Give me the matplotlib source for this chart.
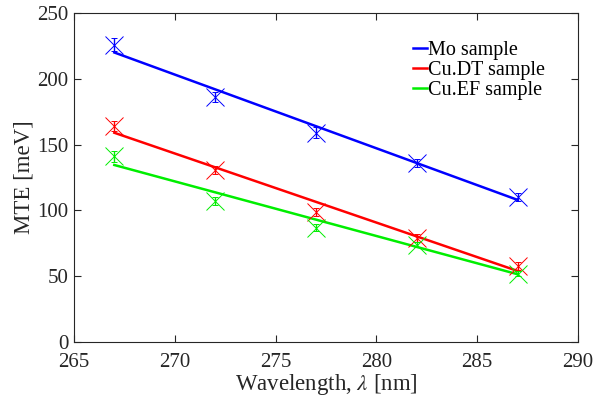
import numpy as np
import matplotlib
matplotlib.use("Agg")
import matplotlib.pyplot as plt

plt.rcParams['font.family'] = ['Liberation Serif', 'DejaVu Serif']
plt.rcParams['mathtext.fontset'] = 'stix'

wavelength = [267, 272, 277, 282, 287]

mo_mte = [226, 186, 159, 136, 110]
mo_err = [5, 4, 4, 3, 3]
cudt_mte = [164, 131, 99, 79, 58]
cudt_err = [4, 3, 3, 3, 3]
cuef_mte = [141, 107, 87, 74, 52]
cuef_err = [4, 3, 3, 2, 2]

# linear fit lines at 267 and 287 nm
fit_x = [267, 287]
mo_fit = [220, 108]
cudt_fit = [159, 54]
cuef_fit = [134.5, 51.5]

series = [
    ("Mo sample", mo_mte, mo_err, mo_fit, "#0000ff"),
    ("Cu.DT sample", cudt_mte, cudt_err, cudt_fit, "#ff0000"),
    ("Cu.EF sample", cuef_mte, cuef_err, cuef_fit, "#00ee00"),
]

fig = plt.figure(figsize=(5.95, 4.07), dpi=100)
ax = fig.add_axes([74 / 595, 1 - 342 / 407, 504 / 595, 329 / 407])

for name, y, err, fit, col in series:
    ax.errorbar(wavelength, y, yerr=err, fmt='x', color=col, markersize=13,
                markeredgewidth=0.7, elinewidth=1.0, capsize=2.5, capthick=1.0)
    ax.plot(fit_x, fit, color=col, linewidth=1.8, label=name)

ax.set_xlim(265, 290)
ax.set_ylim(0, 250)
ax.set_xticks(np.arange(265, 291, 5))
ax.set_yticks(np.arange(0, 251, 50))
ax.tick_params(direction='in', length=5, width=0.8, top=True, right=True,
               labelsize=15, colors='#262626', labelcolor='#262626')
ax.tick_params(axis='x', pad=8)
ax.tick_params(axis='y', pad=4)
for s in ax.spines.values():
    s.set_linewidth(0.8)
    s.set_color('#262626')

ax.set_xlabel(r"Wavelength, $\lambda$ [nm]", fontsize=16.5, color='#262626', labelpad=0)
ax.set_ylabel("MTE [meV]", fontsize=16.5, color='#262626', labelpad=2)

ax.legend(loc='upper left', bbox_to_anchor=(0.672, 0.915), frameon=False,
          fontsize=14.5, handlelength=0.7, handletextpad=0.05, labelspacing=0.05,
          borderpad=0, borderaxespad=0)

fig.savefig("out.png", dpi=100)
